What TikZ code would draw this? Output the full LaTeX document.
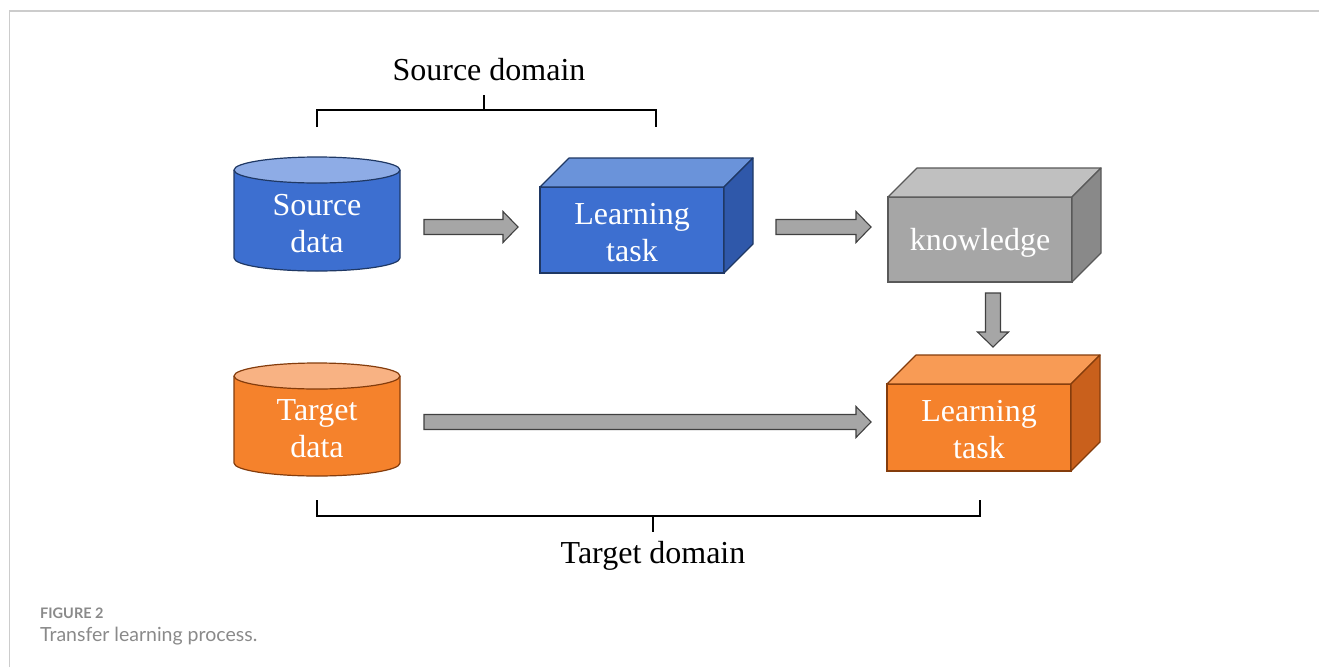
\documentclass[tikz,border=0pt]{standalone}
\usepackage{fontspec}
\setmainfont{Liberation Serif}
\newfontfamily\capfont{Lato}
\usetikzlibrary{calc}
\definecolor{bluebody}{HTML}{3D6FD0}
\definecolor{bluetop}{HTML}{6A93DA}
\definecolor{bluecyltop}{HTML}{8EACE6}
\definecolor{blueside}{HTML}{2F58AA}
\definecolor{blueline}{HTML}{1F3864}
\definecolor{orbody}{HTML}{F5822C}
\definecolor{ortop}{HTML}{F89B55}
\definecolor{orcyltop}{HTML}{F8B283}
\definecolor{orside}{HTML}{C9601C}
\definecolor{orline}{HTML}{843C0C}
\definecolor{grbody}{HTML}{A6A6A6}
\definecolor{grtop}{HTML}{C0C0C0}
\definecolor{grside}{HTML}{898989}
\definecolor{grline}{HTML}{595959}
\definecolor{arrowfill}{HTML}{A6A6A6}
\definecolor{arrowline}{HTML}{404040}
\definecolor{framecol}{HTML}{CCCCCC}
\definecolor{capcol}{HTML}{8A8A8A}
\newcommand\bigfont{\fontsize{32}{37}\selectfont}
\tikzset{
  boxface/.style={rectangle, inner sep=0pt, outer sep=0pt, line width=1.2pt,
    text=white, align=center, font=\bigfont, minimum width=184pt, text depth=0pt},
  facestyle/.style={line width=1.2pt, line join=round},
  cyllabel/.style={text=white, align=center, font=\bigfont, inner sep=0pt},
  bracket/.style={line width=1.8pt, black},
  domainlabel/.style={font=\bigfont, text=black, inner sep=0pt},
  fatarrow/.style={draw=arrowline, fill=arrowfill, line width=1.1pt, line join=miter,
    to path={let \p1=(\tikztostart), \p2=(\tikztotarget),
      \n1={veclen(\x2-\x1,\y2-\y1)}, \n2={atan2(\y2-\y1,\x2-\x1)} in
      {[shift={(\p1)}, rotate=\n2]
        (0,-7.5) -- (\n1-15,-7.5) -- (\n1-15,-15.5) -- (\n1,0) -- (\n1-15,15.5) -- (\n1-15,7.5) -- (0,7.5) -- cycle}}}
}
% cylinder: #1 cx, #2 top y, #3 bottom y, #4 body, #5 top, #6 line
\newcommand\mycyl[6]{%
  \fill[#4] (#1-83,#2) -- (#1-83,#3) arc[start angle=180, end angle=0, x radius=83, y radius=13] -- (#1+83,#2) -- cycle;
  \draw[#6, line width=1.2pt] (#1-83,#2) -- (#1-83,#3) arc[start angle=180, end angle=0, x radius=83, y radius=13] -- (#1+83,#2);
  \filldraw[fill=#5, draw=#6, line width=1.2pt] (#1,#2) ellipse[x radius=83, y radius=13];
}
% box: #1 name, #2 position, #3 node options, #4 front, #5 top, #6 side, #7 line, #8 text
\newcommand\cubebox[8]{%
  \node[boxface, #3, fill=#4, draw=#7] (#1) at (#2) {#8};
  \filldraw[facestyle, fill=#5, draw=#7] (#1.north west) -- ++(29,-29) -- ([shift={(29,-29)}]#1.north east) -- (#1.north east) -- cycle;
  \filldraw[facestyle, fill=#6, draw=#7] (#1.north east) -- ([shift={(29,-29)}]#1.north east) -- ([shift={(29,-29)}]#1.south east) -- (#1.south east) -- cycle;
}
\begin{document}
\begin{tikzpicture}[x=1pt,y=-1pt]
\fill[white] (0,0) rectangle (1319,667);
\useasboundingbox (0,0) rectangle (1319,667);
% frame
\draw[framecol, line width=1.2pt] (9.5,667) -- (9.5,11) -- (1319,11);

% cylinders
\mycyl{317}{170}{258}{bluebody}{bluecyltop}{blueline}
\node[cyllabel] (srcdata) at (317,223.5) {Source\\data};
\mycyl{317}{376}{463}{orbody}{orcyltop}{orline}
\node[cyllabel] (tgtdata) at (317,428.5) {Target\\data};

% boxes
\cubebox{srctask}{632,230}{minimum height=86pt, text height=62pt}{bluebody}{bluetop}{blueside}{blueline}{Learning\\task}
\cubebox{know}{980,239.5}{minimum height=85pt, text height=22pt}{grbody}{grtop}{grside}{grline}{knowledge}
\cubebox{tgttask}{979,427.5}{minimum height=87pt, text height=61pt}{orbody}{ortop}{orside}{orline}{Learning\\task}

% arrows
\coordinate (a1s) at (424,227);
\coordinate (a1e) at (518,227);
\coordinate (a2s) at (776,227);
\coordinate (a2e) at (871,227);
\coordinate (a3s) at (993,293);
\coordinate (a3e) at (993,347);
\coordinate (a4s) at (424,422);
\coordinate (a4e) at (871,422);
\path[fatarrow] (a1s) to (a1e);
\path[fatarrow] (a2s) to (a2e);
\path[fatarrow] (a3s) to (a3e);
\path[fatarrow] (a4s) to (a4e);

% source domain bracket
\coordinate (sb1) at (317,127);
\coordinate (sb2) at (656,127);
\coordinate (sbm) at (484,110);
\coordinate (sbt) at (484,95);
\draw[bracket] (sb1) |- (sbm) -| (sb2);
\draw[bracket] (sbm) -- (sbt);
\node[domainlabel] (srcdom) at (489,70) {Source domain};

% target domain bracket
\coordinate (tb1) at (317,500);
\coordinate (tb2) at (980,500);
\coordinate (tbm) at (653,516);
\coordinate (tbt) at (653,532);
\draw[bracket] (tb1) |- (tbm) -| (tb2);
\draw[bracket] (tbm) -- (tbt);
\node[domainlabel] (tgtdom) at (653,556) {Target domain};

% caption
\node[anchor=west, inner sep=0pt, text=capcol, font=\capfont\bfseries\fontsize{14.5}{16}\selectfont] (figlabel) at (40,613) {FIGURE 2};
\node[anchor=west, inner sep=0pt, text=capcol, font=\capfont\fontsize{19.5}{22}\selectfont] (figcap) at (40,636) {Transfer learning process.};
\end{tikzpicture}
\end{document}
